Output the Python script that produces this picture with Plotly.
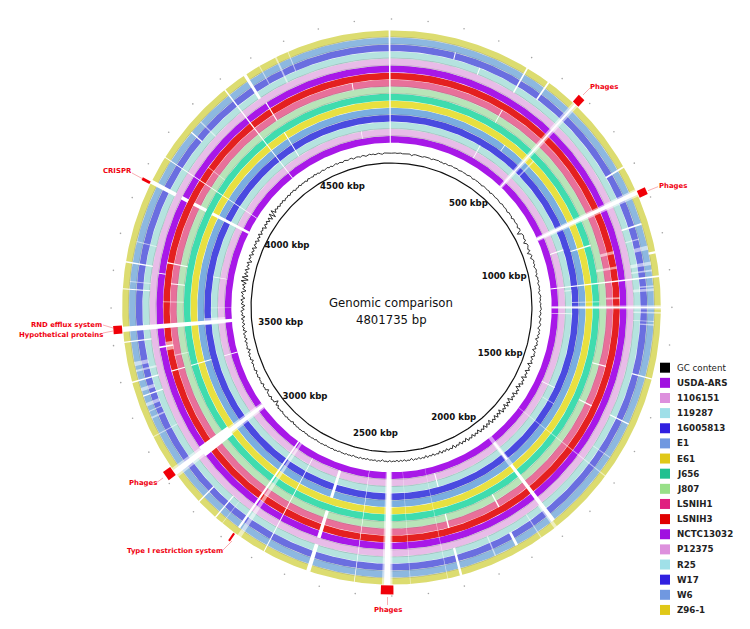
import math
import plotly.graph_objects as go

GENOME_KBP = 4801.735
ring_names = ["USDA-ARS","1106151","119287","16005813","E1","E61","J656","J807","LSNIH1","LSNIH3","NCTC13032","P12375","R25","W17","W6","Z96-1"]
ring_colors = ["#a818e8","#e8bce8","#b5e3df","#4a4ae0","#7aaee0","#e8e040","#3fdcae","#b8e4b8","#e8709a","#e42020","#a818e8","#e8bce8","#b5e3df","#6a6ee0","#8db8e0","#dcdc70"]
legend_colors = ["#000000","#a010e0","#dd90dd","#9fdfe8","#3020e0","#7098e0","#e0c818","#20c090","#98e088","#e02080","#e00000","#a010e0","#dd90dd","#a0e0e8","#3020e0","#7098e0","#e0c818"]
edge_rings = [1,2,4,7,8,11,12,14,15]

# (centre kbp, width kbp, first ring, last ring)
gaps_solid = [
 (4796,5,0,15),(4668,3,1,1),(4665,3,8,8),(193,3,13,13),(277,3,12,12),(404,5,12,15),(476,5,13,15),
 (400,3,7,8),(392,4,1,2),(476,3,4,4),(573,6,0,15),(794,5,13,15),(874,12,0,15),(960,5,1,2),(975,5,4,6),
 (960,5,12,14),(1047,6,15,15),(1114,5,0,15),(1200,3,0,15),(1227,3,0,2),(1400,4,7,8),(1400,4,13,15),
 (1541,4,1,2),(1541,4,7,8),(1541,4,12,14),(1894,10,1,3),(1894,12,5,14),(2014,5,7,8),(2021,8,13,14),
 (2201,5,7,8),(2201,5,1,2),(2201,7,12,15),(2413,18,0,15),(2641,12,1,4),(2641,12,7,10),(2641,12,12,15),
 (2507,2,0,15),(2778,3,1,15),(2874,7,0,14),(2945,4,12,15),(3009,4,13,15),(3114,16,0,15),(3114,36,6,10),
 (3346,4,12,14),(3392,4,4,6),(3392,4,0,1),(3392,4,8,9),(3392,4,12,15),(3475,5,9,10),(3505,4,12,15),
 (3541,15,0,15),(3653,3,12,15),(3728,4,12,15),(3710,3,10,10),(3748,4,7,9),(3681,3,7,8),(3728,3,1,2),
 (3961,12,12,15),(3961,12,0,5),(3961,12,7,8),(3961,12,10,10),(4039,3,0,15),(4140,4,13,14),(4292,4,0,15),
 (4362,9,12,15),(4372,4,2,5),(4372,4,8,10),
]
gaps_soft = [
 (573,18,0,15),(874,22,0,15),(600,6,3,5),(1075,10,12,14),(1095,5,12,14),(1140,5,13,14),(1200,12,0,15),
 (1215,5,12,15),(1240,3,12,14),(1180,4,3,6),(1070,8,7,9),(1000,4,12,13),(1894,18,0,4),(2413,30,0,15),
 (2347,2,0,15),(2240,2,0,15),(2860,12,0,15),(2920,2,12,15),(3114,30,0,15),(3475,28,9,9),(3440,4,7,8),
 (3300,3,13,14),(3280,5,13,14),(3230,3,12,15),(3545,28,1,3),(3600,3,0,2),(3620,3,7,9),(3675,3,12,14),
 (4462,5,12,15),(4500,3,13,15),(4410,3,13,15),(4180,4,12,14),(4090,3,7,9),(3790,3,12,14),(1600,3,2,3),
 (1700,3,0,15),(1650,3,12,14),(1900,10,12,15),(1950,3,12,15),(2090,4,12,14),
 (3440,12,13,14),(3420,6,12,14),(3365,10,13,14),(3320,10,13,14),(1030,12,13,14),(1150,8,12,14),
 (1170,6,8,9),(1020,10,8,9),(1130,6,2,2),(1250,4,13,14),
]

# GC content deviation, one value every 10 kbp
gc_step_kbp = 10
gc_values = [
 .3,.5,.6,.2,.4,.7,.1,.3,-.2,.5,.6,-.9,.4,.7,.3,.5,.1,-.3,.6,.2,.4,.3,-.5,.5,.2,.4,.6,-.2,.3,-.8,.4,.1,-.4,.3,.5,-.2,.1,.4,-.6,.2,
 .3,-.3,.1,-.7,.2,.4,-.1,-.9,.2,-.3,.1,-.5,-.2,-1.1,.1,-.4,-.1,-.7,-.2,-1.3,-.1,-.5,-.3,-.8,-.2,-.6,-.4,-1.2,-.1,-.7,-.9,-.3,-.6,-1.5,-.2,-.8,
 -.4,-1.9,-.2,-.6,-1.1,-.3,-.7,-2,-.4,-.9,-5.2,-1.1,-.3,-.8,-1.6,-.5,-3.6,-.9,-.4,-1.4,-2.2,-.6,-4.2,-1.2,-.5,-2.8,-.9,-.2,-1.3,-.6,-2.1,-.8,
 -.3,-1.2,-.5,-2.4,-.4,-1,-.2,-1.6,-.7,-.3,-1.1,-.5,-2,-.6,.1,-.9,-.4,-1.5,-.2,-.8,-.4,.2,-1.3,-.1,-.6,-1.9,.2,-.5,-1.1,.4,-.3,-2.2,.3,-.7,
 .5,-1.4,.4,-2.6,.1,-.6,.7,-1.8,.3,-3,.6,-.5,1,-2.3,.2,-1.2,1.1,-3.2,.5,-.8,1.2,-2.7,.4,-1.3,1.4,-3.4,.6,-1,1.5,-2.5,.3,-3.6,1,-1.1,1.6,-3,
 .7,-1.5,1.2,-3.8,.5,-2.1,1.4,-3.2,.9,-1.2,1.7,-3.5,.4,-2.4,1.1,-2.9,.8,-1.4,1.3,-3.3,.3,-2,1,-2.7,.6,-1.3,.9,-2.9,.2,-1.7,.8,-2.4,.5,-1,1,-2.6,
 .3,-1.5,.7,-2.2,.1,-1.1,.9,-2.5,.4,-.9,.6,-1.9,.2,-1.3,.7,-2.1,.3,-.7,.5,-1.6,.1,-1,.6,-1.8,.4,-.6,.3,-1.4,.2,-.8,.5,-1.7,.1,-.5,.4,-1.2,.2,-.9,
 .4,-1.1,.1,-.4,.3,-.9,.5,-.3,.1,-1.4,.2,-.4,.6,-.7,.1,-.3,.4,-1,.2,-.5,.3,-.8,.5,-.2,.1,-1.2,.3,-.4,.2,-.7,.4,-.1,.1,-.9,.3,-.3,.5,-.6,.2,-.2,
 .1,-.8,.3,-.4,.4,-.2,.1,-1,.2,-.5,.3,-.3,.5,-.6,.1,-.9,.2,-.2,.4,-.5,.3,-.7,.1,-1.5,.2,-.4,.3,-.8,.5,-.3,.2,-1.2,.1,-.6,.3,-2,-.2,-4.6,-.5,-1,
 .1,-1.8,.2,-.6,-.4,-3.2,-.3,-1,-.1,-2.1,.2,-.7,-.3,-1.5,.3,-.9,.1,-1.9,.4,-.5,-.2,-1.3,.2,-2.4,.3,-.8,.5,-1.6,.1,-2.8,.4,-.7,-.3,-1.4,.6,-2.2,.2,-1.1,.7,-3,
 .3,-1.3,.8,-2.3,.1,-1.7,.9,-2.9,.4,-1,1.1,-2.5,.2,-3.2,.8,-1.5,1.2,-2.8,.5,-1.1,1.4,-3.4,.3,-2,1,-2.6,3,-4,2.6,-3.2,.9,-2,
 1.2,-2.7,.4,-1.6,1.1,-3.3,.6,-1.2,1.3,-2.5,.2,-1.9,1,-3,.5,-1.1,.9,-2.6,.3,-1.7,1.2,-2.2,.4,-1,.8,-2.8,.6,-1.4,.9,-2.1,1.1,-3.1,2.6,-4,3.2,-1.8,1,-.9,
 .8,-1.2,.5,-.6,.9,-1.1,.3,-.4,.7,-.9,.6,-.2,.8,-1,.2,-.5,.9,-.7,.4,-.3,.6,-1,.8,-.2,.3,-.6,.9,-.4,.5,-.8,.2,.7,-.5,.4,.8,-.3,.6,-.7,.3,.9,
 -.4,.5,.1,-.6,.8,.3,-.2,.6,.9,-.5,.2,.7,.4,-.3,.8,.5,-.6,.3,.9,.2,.6,-.3,.4,.8,.1,-.5,.7,.4,.3,.5,
]

tick_kbp = [500,1000,1500,2000,2500,3000,3500,4000,4500]
tick_label_r = [130,120,121,128,127.5,126,115,124,131]

feature_kbp = [573,880,3957,3541,3121,2876,2413]
feature_width = [21,20,8,22,27,6,35]

WIN_W, WIN_H = 750, 629
CX, CY, XS = 391.5, 307.5, 0.972
R_INNER = 144.5
R_GC = 154
R_FIRST = 164.8
R_STEP = 7.04
R_THICK = 6.7
R_FEAT0, R_FEAT1 = 278, 287


def xy(kbp, r):
    a = 2 * math.pi * kbp / GENOME_KBP
    return r * math.sin(a), r * math.cos(a)


def sector(k0, k1, r0, r1, step=8.0):
    n = max(2, int(abs(k1 - k0) / step) + 2)
    ks = [k0 + (k1 - k0) * i / (n - 1) for i in range(n)]
    pts = [xy(k, r1) for k in ks] + [xy(k, r0) for k in reversed(ks)]
    pts.append(pts[0])
    return [p[0] for p in pts], [p[1] for p in pts]


def ring_in(i):
    return R_FIRST + R_STEP * i


fig = go.Figure()


def fill(xs, ys, color):
    fig.add_trace(go.Scatter(x=xs, y=ys, mode="lines", fill="toself", fillcolor=color,
                             line=dict(width=0, color=color), hoverinfo="skip", showlegend=False))


for i, (name, c) in enumerate(zip(ring_names, ring_colors)):
    xs, ys = sector(0, GENOME_KBP, ring_in(i), ring_in(i) + R_THICK)
    fig.add_trace(go.Scatter(x=xs, y=ys, mode="lines", fill="toself", fillcolor=c, name=name,
                             line=dict(width=0, color=c), hoverinfo="name", showlegend=False))

for i in edge_rings:
    pts = [xy(k, ring_in(i) + 0.1) for k in [GENOME_KBP * j / 360 for j in range(361)]]
    fig.add_trace(go.Scatter(x=[p[0] for p in pts], y=[p[1] for p in pts], mode="lines",
                             line=dict(width=0.5, color="rgba(95,105,105,0.55)"),
                             hoverinfo="skip", showlegend=False))


def gap_trace(table, color):
    X, Y = [], []
    for k, w, lo, hi in table:
        xs, ys = sector(k - w / 2, k + w / 2, ring_in(lo) - 0.4, ring_in(hi) + R_THICK + 0.4, step=4)
        X += xs + [None]
        Y += ys + [None]
    fill(X, Y, color)


gap_trace(gaps_soft, "rgba(255,255,255,0.55)")
gap_trace(gaps_solid, "#ffffff")

# GC content
gc_k = [i * gc_step_kbp for i in range(len(gc_values))]
gc_r = [R_GC + v for v in gc_values]
gp = [xy(k * GENOME_KBP / (gc_step_kbp * len(gc_values)), r) for k, r in zip(gc_k, gc_r)]
gp.append(gp[0])
fig.add_trace(go.Scatter(x=[p[0] for p in gp], y=[p[1] for p in gp], mode="lines",
                         line=dict(color="#111111", width=0.85), name="GC content",
                         hoverinfo="name", showlegend=False))

# backbone circle
cp = [xy(GENOME_KBP * j / 360, R_INNER) for j in range(361)]
fig.add_trace(go.Scatter(x=[p[0] for p in cp], y=[p[1] for p in cp], mode="lines",
                         line=dict(color="#111111", width=1.2), hoverinfo="skip", showlegend=False))

# tiny outer ticks
op = [xy(k, 288.5) for k in range(0, 4800, 100)]
fig.add_trace(go.Scatter(x=[p[0] for p in op], y=[p[1] for p in op], mode="markers",
                         marker=dict(size=1.6, color="rgba(90,90,90,0.55)"),
                         hoverinfo="skip", showlegend=False))

# features
for k, w in zip(feature_kbp, feature_width):
    xs, ys = sector(k - w / 2, k + w / 2, R_FEAT0, R_FEAT1, step=4)
    fill(xs, ys, "#f00008")

# tick labels
lp = [xy(k, r) for k, r in zip(tick_kbp, tick_label_r)]
fig.add_trace(go.Scatter(x=[p[0] for p in lp], y=[p[1] for p in lp], mode="text",
                         text=[f"<b>{k} kbp</b>" for k in tick_kbp],
                         textposition="middle center",
                         textfont=dict(family="DejaVu Sans", size=8.6, color="#111111"),
                         hoverinfo="skip", showlegend=False))

shapes, ann = [], []


def px(x):
    return x / WIN_W


def py(y):
    return 1 - y / WIN_H


ann.append(dict(xref="paper", yref="paper", x=px(391), y=py(303), text="Genomic comparison", showarrow=False,
                font=dict(family="DejaVu Sans", size=11.7, color="#111"), xanchor="center", yanchor="middle"))
ann.append(dict(xref="paper", yref="paper", x=px(391), y=py(320), text="4801735 bp", showarrow=False,
                font=dict(family="DejaVu Sans", size=11.7, color="#111"), xanchor="center", yanchor="middle"))

# legend
legend_names = ["GC content"] + ring_names
for i, (n, c) in enumerate(zip(legend_names, legend_colors)):
    yc = 367.7 + i * 15.14
    shapes.append(dict(type="rect", xref="paper", yref="paper", x0=px(660), x1=px(670),
                       y0=py(yc - 5), y1=py(yc + 5), fillcolor=c, line=dict(width=0)))
    ann.append(dict(xref="paper", yref="paper", x=px(675), y=py(yc), showarrow=False,
                    text=n if i == 0 else f"<b>{n}</b>", xanchor="left", yanchor="middle",
                    font=dict(family="DejaVu Sans", size=8.7, color="#222")))

# red callouts
callout_text = ["Phages","Phages","CRISPR","RND efflux system","Hypothetical proteins","Phages","Type I restriction system","Phages"]
callout_cx = [604,673,117,66,61,142.7,175,387.7]
callout_cy = [86.7,186,171,324.5,335,482.7,550.7,610]
lead_x0 = [583,648,132,103,103,156,223,387.5]
lead_y0 = [95,190.7,173,325,333,483,550,597]
lead_x1 = [590,658,143,113,113,163,232,387.5]
lead_y1 = [88,186.7,179,328,331,478,541,605]
for t, cx, cy in zip(callout_text, callout_cx, callout_cy):
    ann.append(dict(xref="paper", yref="paper", x=px(cx), y=py(cy), text=f"<b>{t}</b>", showarrow=False,
                    xanchor="center", yanchor="middle",
                    font=dict(family="DejaVu Sans", size=6.9, color="#f00010")))
for a, b, c, d in zip(lead_x0, lead_y0, lead_x1, lead_y1):
    shapes.append(dict(type="line", xref="paper", yref="paper", x0=px(a), y0=py(b), x1=px(c), y1=py(d),
                       line=dict(color="rgba(240,60,70,0.6)", width=0.7)))

fig.update_layout(
    width=WIN_W, height=WIN_H, margin=dict(l=0, r=0, t=0, b=0),
    paper_bgcolor="white", plot_bgcolor="white", showlegend=False,
    xaxis=dict(visible=False, range=[-CX / XS, (WIN_W - CX) / XS], fixedrange=True),
    yaxis=dict(visible=False, range=[-(WIN_H - CY), CY], fixedrange=True),
    shapes=shapes, annotations=ann,
)
fig.write_html("out.html", config={"displayModeBar": False},
               post_script="document.body.style.margin='0';document.body.style.overflow='hidden';")
